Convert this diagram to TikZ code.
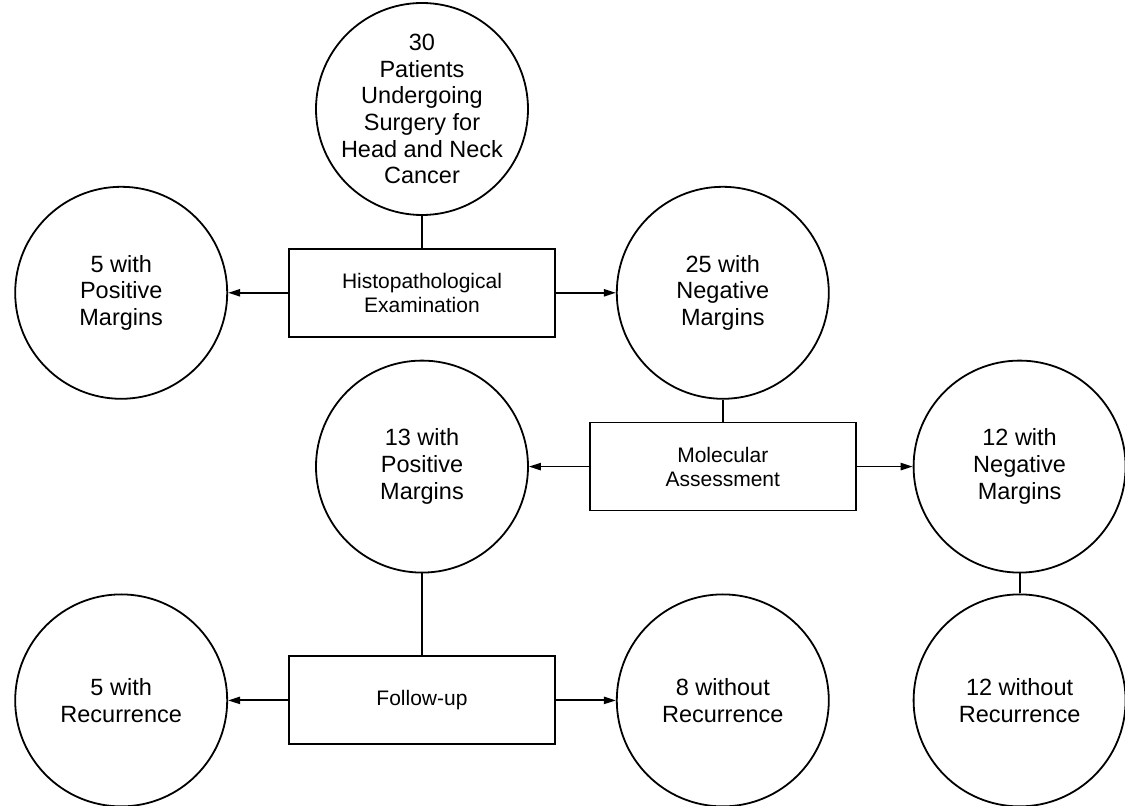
\documentclass[tikz,border=0pt]{standalone}
\usepackage{fontspec}
\setmainfont{Liberation Sans}
\usetikzlibrary{positioning,arrows.meta}

\begin{document}
\begin{tikzpicture}[
  node distance=30pt,
  line width=0.9pt,
  circ/.style={draw, circle, minimum size=106pt, inner sep=2pt, align=center,
               font=\fontsize{11.75}{13.35}\selectfont},
  box/.style={draw, minimum width=133pt, minimum height=44pt, align=center,
              font=\fontsize{10.5}{12}\selectfont},
  arr/.style={-{Triangle[length=6pt,width=3.6pt]}}
]
\useasboundingbox (-211pt,54.5pt) rectangle (351.5pt,-348.5pt);

% ===== Top row: cohort and histopathology =====
\node[circ, inner sep=-4pt] (pat) at (0,0) {30\\Patients\\Undergoing\\Surgery for\\Head and Neck\\Cancer};
\node[box, below=16pt of pat]  (histo) {Histopathological\\Examination};
\node[circ, left=of histo]     (pos5)  {5 with\\Positive\\Margins};
\node[circ, right=of histo]    (neg25) {25 with\\Negative\\Margins};
\draw (pat) -- (histo);
\draw[arr] (histo) -- (pos5);
\draw[arr] (histo) -- (neg25);

% ===== Middle row: molecular assessment =====
\node[box, below=11pt of neg25] (mol)   {Molecular\\Assessment};
\node[circ, left=of mol]        (pos13) {13 with\\Positive\\Margins};
\node[circ, right=28pt of mol]  (neg12) {12 with\\Negative\\Margins};
\draw (neg25) -- (mol);
\draw[arr] (mol) -- (pos13);
\draw[arr] (mol) -- (neg12);

% ===== Bottom row: follow-up =====
\node[box, below=41pt of pos13]   (fup)     {Follow-up};
\node[circ, left=of fup]          (rec5)    {5 with\\Recurrence};
\node[circ, right=of fup]         (norec8)  {8 without\\Recurrence};
\node[circ, right=41.5pt of norec8] (norec12) {12 without\\Recurrence};
\draw (pos13) -- (fup);
\draw[arr] (fup) -- (rec5);
\draw[arr] (fup) -- (norec8);
\draw (neg12) -- (norec12);

\end{tikzpicture}
\end{document}
